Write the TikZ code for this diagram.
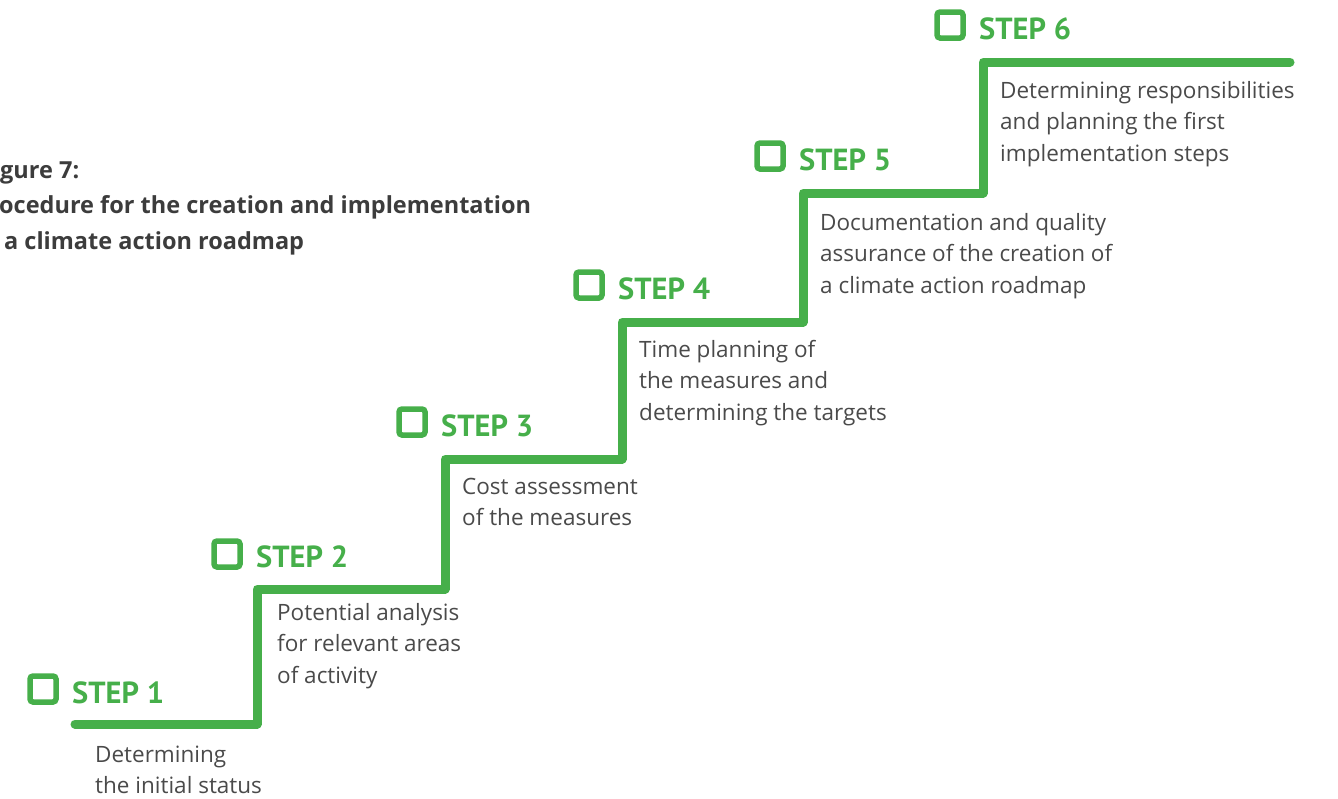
\documentclass[tikz,border=0pt]{standalone}
\usepackage{fontspec}
\setmainfont{Open Sans}
\newfontfamily\steplabelfont{PT Sans}
\definecolor{stepgreen}{HTML}{46AF4A}
\definecolor{bodygray}{HTML}{4A4A4A}
\definecolor{titlegray}{HTML}{3C3C3C}
\tikzset{
  stair/.style={draw=stepgreen, line width=9pt, line cap=round, line join=round},
  checkbox/.style={draw=stepgreen, line width=5.5pt, rounded corners=3pt, minimum size=26pt, inner sep=0pt},
  steplabel/.style={text=stepgreen, font=\steplabelfont\bfseries\fontsize{30.5}{30.5}\selectfont, anchor=base west, inner sep=0pt},
  desc/.style={text=bodygray, font=\fontsize{22.5}{31.5}\selectfont, anchor=base west, align=left, inner sep=0pt},
  titletext/.style={text=titlegray, font=\bfseries\fontsize{23.5}{23.5}\selectfont, anchor=base west, inner sep=0pt}
}
\begin{document}
\begin{tikzpicture}[x=1pt,y=-1pt]
\useasboundingbox (0,0) rectangle (1338,798);
% title (cut off at the left edge)
\node[titletext] (t1) at (0,178) {gure 7:};
\node[titletext] (t2) at (-1,213) {ocedure for the creation and implementation};
\node[titletext] (t3) at (4,249) {a climate action roadmap};
% staircase corners
\coordinate (s0) at (75,724);
\coordinate (c1) at (257,724);
\coordinate (c2) at (257,589);
\coordinate (c3) at (445,589);
\coordinate (c4) at (445,459);
\coordinate (c5) at (622,459);
\coordinate (c6) at (622,322);
\coordinate (c7) at (803,322);
\coordinate (c8) at (803,193);
\coordinate (c9) at (983,193);
\coordinate (c10) at (983,62);
\coordinate (e) at (1290,62);
\draw[stair] (s0) -- (c1) -- (c2) -- (c3) -- (c4) -- (c5) -- (c6) -- (c7) -- (c8) -- (c9) -- (c10) -- (e);
% step 1
\node[checkbox] (b1) at (43,689) {};
\node[steplabel] (l1) at (72,703) {STEP 1};
\node[desc] (d1) at (95,793.5) {Determining\\the initial status};
% step 2
\node[checkbox] (b2) at (227,554) {};
\node[steplabel] (l2) at (256,567) {STEP 2};
\node[desc] (d2) at (277,683) {Potential analysis\\for relevant areas\\of activity};
% step 3
\node[checkbox] (b3) at (412,422) {};
\node[steplabel] (l3) at (441,436) {STEP 3};
\node[desc] (d3) at (462,525.5) {Cost assessment\\of the measures};
% step 4
\node[checkbox] (b4) at (589,285) {};
\node[steplabel] (l4) at (618,299) {STEP 4};
\node[desc] (d4) at (639,420) {Time planning of\\the measures and\\determining the targets};
% step 5
\node[checkbox] (b5) at (770,156) {};
\node[steplabel] (l5) at (799,170) {STEP 5};
\node[desc] (d5) at (820,293) {Documentation and quality\\assurance of the creation of\\a climate action roadmap};
% step 6
\node[checkbox] (b6) at (950,25) {};
\node[steplabel] (l6) at (979,39) {STEP 6};
\node[desc] (d6) at (1000,161) {Determining responsibilities\\and planning the first\\implementation steps};
\end{tikzpicture}
\end{document}
